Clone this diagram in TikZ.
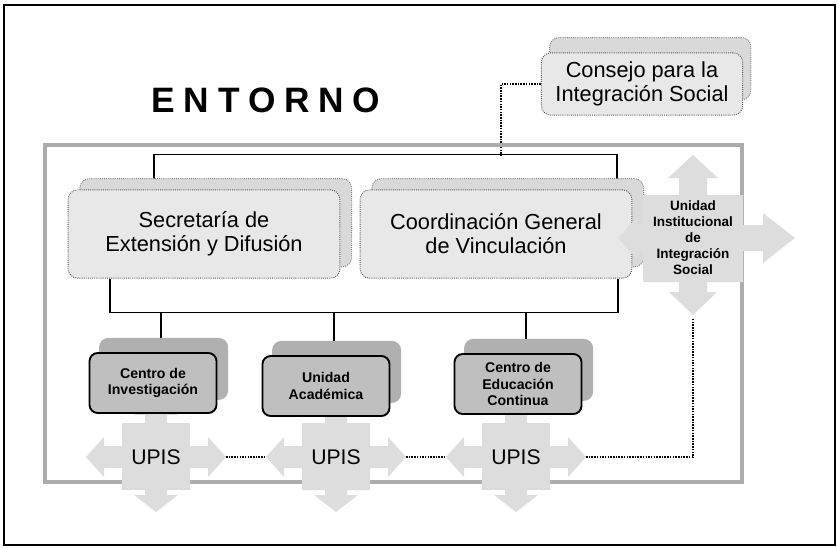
\documentclass[tikz,border=0pt]{standalone}
\usepackage{fontspec}
\setmainfont{Liberation Sans}
\usetikzlibrary{calc,shadows,backgrounds}

\tikzset{
  frame/.style={draw=gray!65, line width=3.5pt},
  title/.style={font=\fontsize{30}{30}\selectfont\bfseries\addfontfeature{LetterSpace=25}},
  bigbox/.style={draw=black!65, densely dotted, line width=0.8pt, fill=gray!18,
    rounded corners=8pt, inner sep=0pt, align=center,
    font=\fontsize{18.5}{20.5}\selectfont},
  upperbox/.style={bigbox, minimum width=231pt, minimum height=75pt,
    copy shadow={shadow xshift=10pt, shadow yshift=9.5pt, opacity=1, fill=gray!30, draw=black!50}},
  topbox/.style={bigbox, minimum width=171pt, minimum height=53pt,
    copy shadow={shadow xshift=7pt, shadow yshift=13pt, opacity=1, fill=gray!30, draw=black!50}},
  lowbox/.style={draw=black, line width=1.6pt, fill=gray!50, rounded corners=7pt,
    minimum width=108pt, minimum height=51pt, inner sep=0pt, align=center,
    font=\fontsize{12}{14}\selectfont\bfseries,
    copy shadow={shadow xshift=9pt, shadow yshift=12pt, opacity=1, fill=gray!62, draw=gray!62}},
  crossfill/.style={fill=gray!27},
  upis/.style={font=\fontsize{18}{18}\selectfont},
  uisbox/.style={minimum width=85pt, minimum height=74pt, inner sep=0pt, align=center,
    font=\fontsize{11.5}{13.6}\selectfont\bfseries},
  conn/.style={line width=1.1pt},
  dotline/.style={densely dotted, line width=1.3pt}
}

\begin{document}
\begin{tikzpicture}[x=0.85pt, y=-0.85pt]
  \useasboundingbox (0,0) rectangle (837,547);

  % Outer frame and the gray inner frame
  \draw[line width=1.2pt] (4,5) rectangle (835,545);
  \draw[frame] (45,145) rectangle (742,482);

  % Title
  \node[title] (entorno) at (266,100) {ENTORNO};

  % Upper boxes
  \node[topbox] (consejo) at (642,84) {Consejo para la\\Integración Social};
  \node[upperbox] (secre) at (204,234) {Secretaría de\\Extensión y Difusión};
  \node[upperbox] (cogen) at (496,234) {Coordinación General\\de Vinculación};

  % UPIS four-way arrows (the top head hides behind the boxes)
  \foreach \nm/\cx in {A/156,B/336,C/516} {
    \begin{scope}[shift={(\cx,457)}]
      \fill[crossfill] (-34,-34) -- (-11,-34) -- (-11,-42) -- (-22,-42) -- (0,-60)
        -- (22,-42) -- (11,-42) -- (11,-34) -- (34,-34) -- (34,-11) -- (52,-11)
        -- (52,-20) -- (70,0) -- (52,20) -- (52,11) -- (34,11) -- (34,33)
        -- (11,33) -- (11,38) -- (22,38) -- (0,55) -- (-22,38) -- (-11,38)
        -- (-11,33) -- (-34,33) -- (-34,11) -- (-52,11) -- (-52,20) -- (-70,0)
        -- (-52,-20) -- (-52,-11) -- (-34,-11) -- cycle;
    \end{scope}
    \node[upis] (upis\nm) at (\cx,457) {UPIS};
    \coordinate (upis\nm-w) at (\cx-70,457);
    \coordinate (upis\nm-e) at (\cx+70,457);
  }

  % Lower boxes
  \node[lowbox] (cinv) at (153,383) {Centro de\\Investigación};
  \node[lowbox] (uacad) at (326,386) {Unidad\\Académica};
  \node[lowbox] (cedu) at (518,384) {Centro de\\Educación\\Continua};

  % Unidad Institucional de Integracion Social
  \begin{scope}[shift={(693,238)}]
    \fill[crossfill] (-50,-43) -- (-14,-43) -- (-14,-60) -- (-25,-60) -- (0,-83)
      -- (25,-60) -- (14,-60) -- (14,-43) -- (50,-43) -- (50,-13) -- (70,-13)
      -- (70,-25) -- (102,0) -- (70,25) -- (70,13) -- (50,13) -- (50,44)
      -- (14,44) -- (14,54) -- (24,54) -- (0,77) -- (-24,54) -- (-14,54)
      -- (-14,44) -- (-50,44) -- (-50,13) -- (-55,13) -- (-55,22) -- (-75,0)
      -- (-55,-22) -- (-55,-13) -- (-50,-13) -- cycle;
  \end{scope}
  \node[uisbox] (uis) at (693,238) {Unidad\\Institucional\\de\\Integración\\Social};
  \coordinate (uisdown) at ($(uis.south)+(0,36)$);

  % Connectors, behind the boxes
  \begin{scope}[on background layer]
    \draw[conn] ($(secre.north)+(-50,0)$) -- ++(0,-35) -| ($(cogen.north)+(121,0)$);
    \draw[dotline] (consejo.west) -- ++(-40,0) -- ++(0,71);
    \draw[conn] ($(secre.south)+(-94,0)$) -- ++(0,34) coordinate (lowbar)
      -| ($(cogen.south)+(122,0)$);
    \foreach \b in {cinv,uacad,cedu} {
      \draw[conn] (\b.north) ++(8,0) coordinate (tmp) -- (tmp |- lowbar);
    }
  \end{scope}

  % Dotted links between the UPIS and the Unidad
  \draw[dotline] (upisA-e) -- (upisB-w);
  \draw[dotline] (upisB-e) -- (upisC-w);
  \draw[dotline] (upisC-e) -| (uisdown);
\end{tikzpicture}
\end{document}
